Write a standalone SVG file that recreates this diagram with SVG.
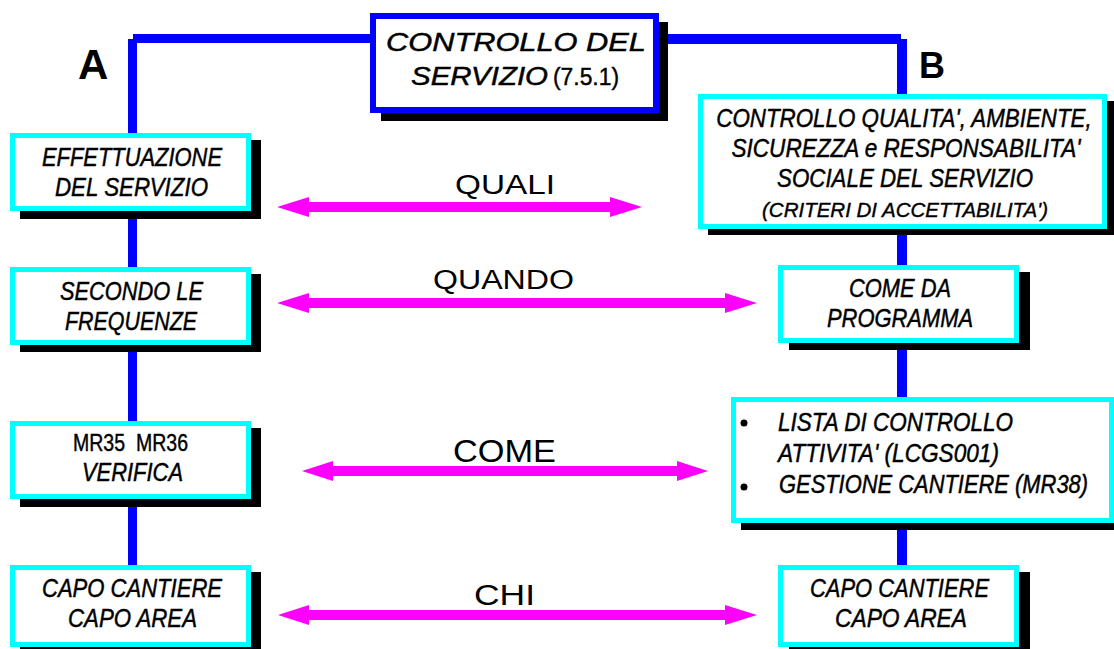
<svg xmlns="http://www.w3.org/2000/svg" width="1114" height="649" viewBox="0 0 1114 649">
<style>
.bl{fill:#0000FF}
.sh{fill:#000}
.bx{fill:#fff;stroke:#00FFFF;stroke-width:5}
.tb{fill:#fff;stroke:#0000FF;stroke-width:6}
.t{font-family:"Liberation Sans",Arial,sans-serif;font-style:italic;font-size:25px;fill:#000;stroke:#000;stroke-width:0.45;text-anchor:middle}
.ts{font-family:"Liberation Sans",Arial,sans-serif;font-style:italic;font-size:21px;fill:#000;stroke:#000;stroke-width:0.4;text-anchor:middle}
.n{font-family:"Liberation Sans",Arial,sans-serif;font-size:23px;fill:#000;stroke:#000;stroke-width:0.4;text-anchor:middle}
.lbl{font-family:"Liberation Sans",Arial,sans-serif;fill:#000;text-anchor:middle}
.big{font-family:"Liberation Sans",Arial,sans-serif;font-weight:bold;fill:#000}
.ar{fill:#FF00FF}
</style>
<g id="connectors">
  <rect class="bl" x="133" y="34" width="240" height="9"/>
  <rect class="bl" x="128" y="39" width="9" height="530"/>
  <rect class="bl" x="656" y="34" width="245" height="10"/>
  <rect class="bl" x="897" y="39" width="10" height="530"/>
  <polygon class="ar" points="277,207 309,197 309,202 610,202 610,197 642,207 610,217 610,212 309,212 309,217"/>
  <polygon class="ar" points="277,303 309,293 309,298 725,298 725,293 757,303 725,313 725,308 309,308 309,313"/>
  <polygon class="ar" points="302,471 333,461 333,466 677,466 677,461 708,471 677,481 677,476 333,476 333,481"/>
  <polygon class="ar" points="278,615 309,605 309,610 725,610 725,605 757,615 725,625 725,620 309,620 309,625"/>
  <text class="lbl" x="505" y="194" font-size="28" textLength="100" lengthAdjust="spacingAndGlyphs">QUALI</text>
  <text class="lbl" x="503.5" y="289" font-size="27" textLength="141" lengthAdjust="spacingAndGlyphs">QUANDO</text>
  <text class="lbl" x="504.5" y="462" font-size="32" textLength="103" lengthAdjust="spacingAndGlyphs">COME</text>
  <text class="lbl" x="504.5" y="605" font-size="30" textLength="61" lengthAdjust="spacingAndGlyphs">CHI</text>
</g>
<g id="labelA"><text class="big" x="78" y="79" font-size="42">A</text></g>
<g id="labelB"><text class="big" x="919" y="78" font-size="36">B</text></g>
<g id="title">
  <rect class="sh" x="381" y="22" width="287" height="99"/>
  <rect class="tb" x="373" y="16" width="283" height="94"/>
  <text class="t" x="516" y="51" font-size="32" textLength="260" lengthAdjust="spacingAndGlyphs">CONTROLLO DEL</text>
  <text class="t" x="411" y="85" font-size="32" style="text-anchor:start" textLength="137" lengthAdjust="spacingAndGlyphs">SERVIZIO</text>
  <text class="n" x="553" y="85" font-size="21" style="text-anchor:start" textLength="66" lengthAdjust="spacingAndGlyphs">(7.5.1)</text>
</g>
<g id="a1">
  <rect class="sh" x="20" y="140" width="241" height="79"/>
  <rect class="bx" x="12.5" y="135.5" width="236" height="73"/>
  <text class="t" x="132" y="166" textLength="180" lengthAdjust="spacingAndGlyphs">EFFETTUAZIONE</text>
  <text class="t" x="131.5" y="196" textLength="153" lengthAdjust="spacingAndGlyphs">DEL SERVIZIO</text>
</g>
<g id="a2">
  <rect class="sh" x="20" y="274" width="241" height="78"/>
  <rect class="bx" x="12.5" y="269.5" width="236" height="73"/>
  <text class="t" x="131.5" y="300" textLength="143" lengthAdjust="spacingAndGlyphs">SECONDO LE</text>
  <text class="t" x="131" y="330" textLength="132" lengthAdjust="spacingAndGlyphs">FREQUENZE</text>
</g>
<g id="a3">
  <rect class="sh" x="20" y="428" width="241" height="79"/>
  <rect class="bx" x="12.5" y="423.5" width="236" height="73"/>
  <text class="n" x="130.5" y="451" textLength="115" lengthAdjust="spacingAndGlyphs" xml:space="preserve">MR35  MR36</text>
  <text class="t" x="132.5" y="481" textLength="101" lengthAdjust="spacingAndGlyphs">VERIFICA</text>
</g>
<g id="a4">
  <rect class="sh" x="20" y="572" width="241" height="80"/>
  <rect class="bx" x="12.5" y="567.5" width="236" height="77"/>
  <text class="t" x="132" y="597" textLength="180" lengthAdjust="spacingAndGlyphs">CAPO CANTIERE</text>
  <text class="t" x="132.5" y="627" textLength="129" lengthAdjust="spacingAndGlyphs">CAPO AREA</text>
</g>
<g id="b1">
  <rect class="sh" x="708" y="101" width="410" height="134"/>
  <rect class="bx" x="700.5" y="96.5" width="404" height="130"/>
  <text class="t" transform="translate(904,127) scale(0.894,1)" x="0" y="0">CONTROLLO QUALITA', AMBIENTE,</text>
  <text class="t" transform="translate(906,157) scale(0.903,1)" x="0" y="0">SICUREZZA e RESPONSABILITA'</text>
  <text class="t" x="905" y="187" textLength="256" lengthAdjust="spacingAndGlyphs">SOCIALE DEL SERVIZIO</text>
  <text class="ts" x="905" y="217" textLength="286" lengthAdjust="spacingAndGlyphs">(CRITERI DI ACCETTABILITA')</text>
</g>
<g id="b2">
  <rect class="sh" x="789" y="272" width="241" height="78"/>
  <rect class="bx" x="780.5" y="267.5" width="236" height="73"/>
  <text class="t" x="900" y="297" textLength="102" lengthAdjust="spacingAndGlyphs">COME DA</text>
  <text class="t" x="900" y="327" textLength="146" lengthAdjust="spacingAndGlyphs">PROGRAMMA</text>
</g>
<g id="b3">
  <rect class="sh" x="741" y="404" width="380" height="126"/>
  <rect class="bx" x="733.5" y="399.5" width="378" height="121"/>
  <circle cx="744" cy="423" r="3.5" fill="#000"/>
  <circle cx="744" cy="487" r="3.5" fill="#000"/>
  <text class="t" x="778" y="431" style="text-anchor:start" textLength="235" lengthAdjust="spacingAndGlyphs">LISTA DI CONTROLLO</text>
  <text class="t" x="778" y="462" style="text-anchor:start" textLength="221" lengthAdjust="spacingAndGlyphs">ATTIVITA' (LCGS001)</text>
  <text class="t" transform="translate(779,493) scale(0.876,1)" x="0" y="0" style="text-anchor:start">GESTIONE CANTIERE (MR38)</text>
</g>
<g id="b4">
  <rect class="sh" x="789" y="572" width="241" height="80"/>
  <rect class="bx" x="780.5" y="567.5" width="236" height="77"/>
  <text class="t" x="899.5" y="597" textLength="179" lengthAdjust="spacingAndGlyphs">CAPO CANTIERE</text>
  <text class="t" x="901" y="627" textLength="132" lengthAdjust="spacingAndGlyphs">CAPO AREA</text>
</g>
</svg>
